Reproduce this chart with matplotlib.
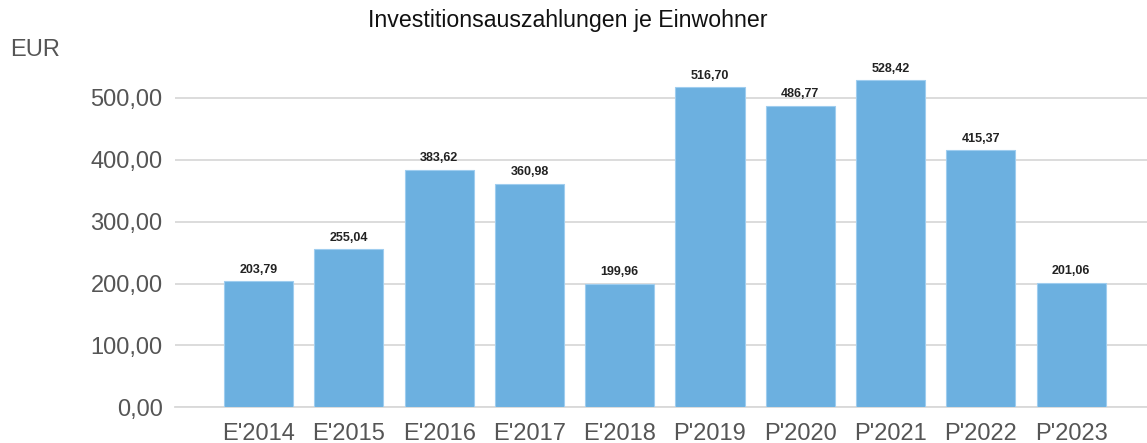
import numpy as np
import matplotlib.pyplot as plt

plt.rcParams['font.family'] = ['Liberation Sans', 'DejaVu Sans']

# data
years = ["E'2014", "E'2015", "E'2016", "E'2017", "E'2018",
         "P'2019", "P'2020", "P'2021", "P'2022", "P'2023"]
values = [203.79, 255.04, 383.62, 360.98, 199.96,
          516.70, 486.77, 528.42, 415.37, 201.06]
yticks = [0, 100, 200, 300, 400, 500]

BAR_COLOR = '#6cb0e0'
GRID_COLOR = '#d9d9d9'
TEXT_GRAY = '#555555'


def de_fmt(v):
    return f"{v:,.2f}".replace(",", "X").replace(".", ",").replace("X", ".")


fig = plt.figure(figsize=(11.47, 4.43), dpi=100)
ax = fig.add_axes([0.1526, 0.0806, 0.8474, 0.7824])

x = np.arange(len(years))
bars = ax.bar(x, values, width=0.765, color=BAR_COLOR,
              edgecolor='#9fcdef', linewidth=0.8, zorder=3)

for b, v in zip(bars, values):
    ax.annotate(de_fmt(v), (b.get_x() + b.get_width() / 2, v),
                xytext=(0, 4), textcoords='offset points',
                ha='center', va='bottom', fontsize=9,
                fontweight='bold', color='#222222')

ax.set_xlim(-0.925, 9.84)
ax.set_ylim(0, 560)
ax.set_yticks(yticks)
ax.set_yticklabels([de_fmt(t) for t in yticks])
ax.set_xticks(x)
ax.set_xticklabels(years)

ax.yaxis.grid(True, color=GRID_COLOR, linewidth=1.3, zorder=0)
ax.set_axisbelow(True)
for s in ['top', 'right', 'left']:
    ax.spines[s].set_visible(False)
ax.spines['bottom'].set_color(GRID_COLOR)
ax.spines['bottom'].set_linewidth(1.3)
ax.tick_params(axis='both', length=0, labelsize=17, colors=TEXT_GRAY)
ax.tick_params(axis='y', pad=9)
ax.tick_params(axis='x', pad=11)

fig.text(0.4948, 0.953, "Investitionsauszahlungen je Einwohner",
         ha='center', va='center', fontsize=16.7, color='#111111')
fig.text(0.009, 0.888, "EUR", ha='left', va='center',
         fontsize=17, color=TEXT_GRAY)

fig.savefig('out.png', dpi=100)
